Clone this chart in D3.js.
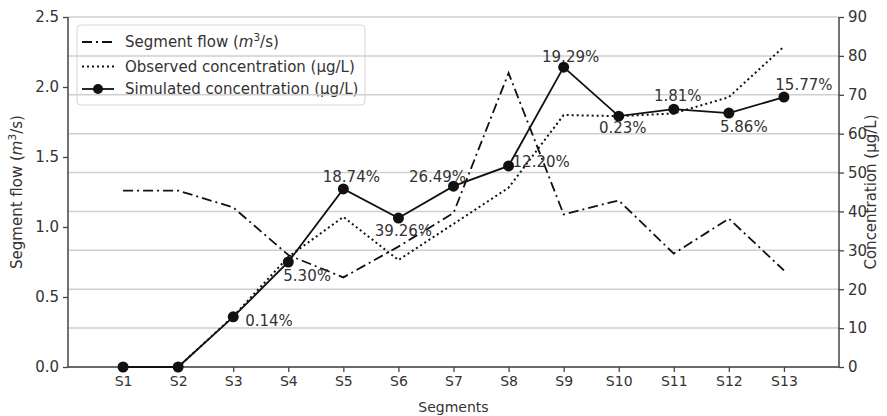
<!DOCTYPE html>
<html>
<head>
<meta charset="utf-8">
<script src="https://cdn.jsdelivr.net/npm/d3@7"></script>
<style>
  html, body { margin: 0; padding: 0; background: #fff; }
  svg { display: block; font-family: "DejaVu Sans", sans-serif; }
</style>
</head>
<body>
<svg id="chart" width="887" height="416"></svg>
<script>
const segments = ["S1","S2","S3","S4","S5","S6","S7","S8","S9","S10","S11","S12","S13"];
const segmentFlow = [1.26, 1.26, 1.14, 0.80, 0.64, 0.86, 1.10, 2.10, 1.09, 1.19, 0.81, 1.06, 0.69];
const observedConc = [0, 0, 13.0, 28.3, 38.6, 27.5, 36.8, 46.1, 64.8, 64.5, 65.2, 69.4, 82.4];
const simulatedConc = [0, 0, 12.9, 27.0, 45.8, 38.3, 46.5, 51.7, 77.1, 64.5, 66.3, 65.3, 69.4];
const errorLabels = ["", "", "0.14%", "5.30%", "18.74%", "39.26%", "26.49%", "12.20%", "19.29%", "0.23%", "1.81%", "5.86%", "15.77%"];
const flowTicks = [0, 0.5, 1.0, 1.5, 2.0, 2.5];
const concTicks = [0, 10, 20, 30, 40, 50, 60, 70, 80, 90];

// label offsets (dx, dy, anchor) relative to each simulated point
const labelOffsets = [
  null, null,
  [12, 4, "start"], [-5, 14, "start"], [8, -12, "middle"], [5, 13, "middle"],
  [-16, -9, "middle"], [4, -4, "start"], [7, -10, "middle"], [4, 12, "middle"],
  [4, -13, "middle"], [15, 14, "middle"], [20, -12, "middle"]
];

const FS = 15;
const svg = d3.select("#chart");
const m = {left: 68, right: 839, top: 17, bottom: 367};
const textColor = "#333";
const spineColor = "#444";

const x = d3.scaleLinear().domain([0, segments.length + 1]).range([m.left, m.right]);
const yL = d3.scaleLinear().domain([0, 2.5]).range([m.bottom, m.top]);
const yR = d3.scaleLinear().domain([0, 90]).range([m.bottom, m.top]);
const xi = i => x(i + 1);

// Legend box (drawn under the right-axis grid, as in the original)
const lg = svg.append("g").attr("transform", "translate(77,25)");
lg.append("rect").attr("width", 288).attr("height", 80).attr("rx", 4)
  .attr("fill", "#fff").attr("stroke", "#d5d5d5").attr("stroke-width", 1);

// Grid lines from right axis
svg.append("g").selectAll("line").data(concTicks).join("line")
  .attr("x1", m.left).attr("x2", m.right)
  .attr("y1", d => yR(d)).attr("y2", d => yR(d))
  .attr("stroke", "#cfcfcf").attr("stroke-width", 1.5);

function superM(t) {
  t.append("tspan").text("Segment flow (");
  t.append("tspan").attr("font-style", "italic").text("m");
  t.append("tspan").attr("font-size", FS * 0.7).attr("dy", -6).text("3");
  t.append("tspan").attr("dy", 6).text("/s)");
}

// Legend items
const legendItems = [
  {dash: "10,4,2,4", marker: false},
  {dash: "2,3", marker: false},
  {dash: null, marker: true}
];
const legendRows = [17, 41.5, 64];
legendItems.forEach((it, i) => {
  const cy = legendRows[i];
  lg.append("line").attr("x1", 5).attr("x2", 37).attr("y1", cy).attr("y2", cy)
    .attr("stroke", "#111").attr("stroke-width", 1.8)
    .attr("stroke-dasharray", it.dash);
  if (it.marker) lg.append("circle").attr("cx", 21).attr("cy", cy).attr("r", 5).attr("fill", "#111");
  const t = lg.append("text").attr("x", 48).attr("y", cy).attr("dy", "0.35em")
    .attr("font-size", FS).attr("fill", textColor);
  if (i === 0) superM(t);
  else if (i === 1) t.text("Observed concentration (μg/L)");
  else t.text("Simulated concentration (μg/L)");
});

// Axes
const axBottom = svg.append("g").attr("transform", `translate(0,${m.bottom})`)
  .call(d3.axisBottom(x).tickValues(d3.range(1, segments.length + 1))
    .tickFormat(d => segments[d - 1]).tickSize(5).tickPadding(4));
const axLeft = svg.append("g").attr("transform", `translate(${m.left},0)`)
  .call(d3.axisLeft(yL).tickValues(flowTicks).tickFormat(d3.format(".1f")).tickSize(5).tickPadding(4));
const axRight = svg.append("g").attr("transform", `translate(${m.right},0)`)
  .call(d3.axisRight(yR).tickValues(concTicks).tickFormat(d3.format("d")).tickSize(5).tickPadding(4));
[axBottom, axLeft, axRight].forEach(a => {
  a.select(".domain").attr("stroke", spineColor).attr("stroke-width", 1.5);
  a.selectAll(".tick line").attr("stroke", spineColor).attr("stroke-width", 1.3);
  a.selectAll(".tick text").attr("font-size", FS).attr("fill", textColor)
    .attr("font-family", "DejaVu Sans, sans-serif");
});
axBottom.selectAll(".tick text").attr("font-size", 14);
axBottom.select(".domain").attr("d", `M${m.left},0H${m.right}`);
axLeft.select(".domain").attr("d", `M0,${m.bottom}V${m.top}`);
axRight.select(".domain").attr("d", `M0,${m.bottom}V${m.top}`);

// Axis titles
const yl = svg.append("text").attr("transform", `translate(22,${(m.top + m.bottom) / 2}) rotate(-90)`)
  .attr("text-anchor", "middle").attr("font-size", FS).attr("fill", textColor);
superM(yl);

svg.append("text").attr("transform", `translate(876,${(m.top + m.bottom) / 2}) rotate(-90)`)
  .attr("text-anchor", "middle").attr("font-size", FS).attr("fill", textColor)
  .text("Concentration (μg/L)");

svg.append("text").attr("x", (m.left + m.right) / 2).attr("y", 412)
  .attr("text-anchor", "middle").attr("font-size", 14).attr("fill", textColor)
  .text("Segments");

// Series
const flowLine = d3.line().x((d, i) => xi(i)).y(d => yL(d));
const concLine = d3.line().x((d, i) => xi(i)).y(d => yR(d));

svg.append("path").datum(segmentFlow).attr("d", flowLine)
  .attr("fill", "none").attr("stroke", "#111").attr("stroke-width", 1.8)
  .attr("stroke-dasharray", "10,4,2,4");

svg.append("path").datum(observedConc).attr("d", concLine)
  .attr("fill", "none").attr("stroke", "#111").attr("stroke-width", 2)
  .attr("stroke-dasharray", "2,3");

svg.append("path").datum(simulatedConc).attr("d", concLine)
  .attr("fill", "none").attr("stroke", "#111").attr("stroke-width", 1.8);

svg.append("g").selectAll("circle").data(simulatedConc).join("circle")
  .attr("cx", (d, i) => xi(i)).attr("cy", d => yR(d)).attr("r", 5.5).attr("fill", "#111");

// Error labels
const labelIdx = d3.range(segments.length).filter(i => errorLabels[i] !== "");
svg.append("g").selectAll("text").data(labelIdx).join("text")
  .attr("x", i => xi(i) + labelOffsets[i][0])
  .attr("y", i => yR(simulatedConc[i]) + labelOffsets[i][1])
  .attr("dy", "0.35em")
  .attr("text-anchor", i => labelOffsets[i][2])
  .attr("font-size", FS).attr("fill", textColor)
  .text(i => errorLabels[i]);
</script>
</body>
</html>
